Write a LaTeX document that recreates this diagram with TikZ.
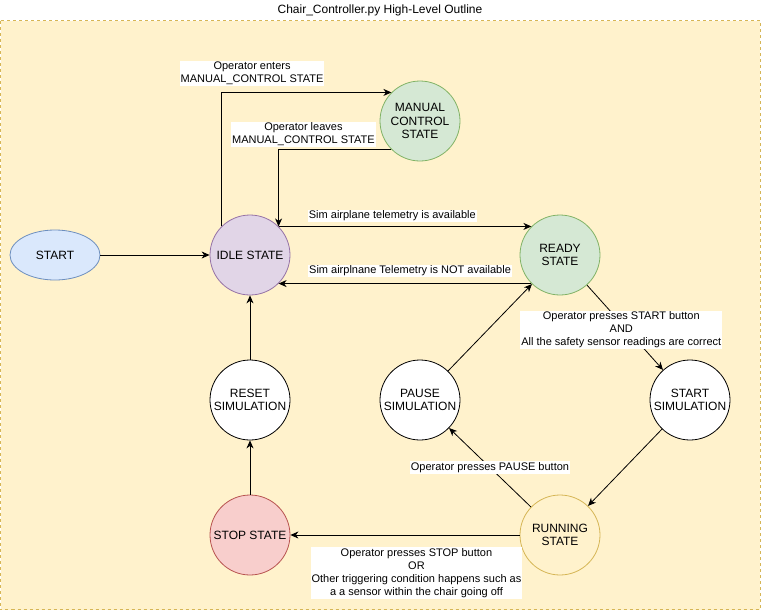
\documentclass[tikz,border=0pt]{standalone}
\usepackage{fontspec}
\setmainfont{Liberation Sans}
\usetikzlibrary{shapes.geometric,arrows.meta}
\definecolor{bluefill}{HTML}{DAE8FC}
\definecolor{blueline}{HTML}{6C8EBF}
\definecolor{purplefill}{HTML}{E1D5E7}
\definecolor{purpleline}{HTML}{9673A6}
\definecolor{greenfill}{HTML}{D5E8D4}
\definecolor{greenline}{HTML}{82B366}
\definecolor{redfill}{HTML}{F8CECC}
\definecolor{redline}{HTML}{B85450}
\definecolor{yellowfill}{HTML}{FFF2CC}
\definecolor{yellowline}{HTML}{D6B656}

\begin{document}
\begin{tikzpicture}[x=1pt,y=-1pt,
		state/.style={circle,draw,line width=0.8pt,minimum size=80pt,inner sep=0pt,align=center,font=\fontsize{12}{13.5}\selectfont},
		lbl/.style={fill=white,inner sep=1pt,align=center,font=\fontsize{11}{13}\selectfont},
		arr/.style={-{Stealth[length=8pt,width=7pt,inset=2.5pt]},line width=0.8pt}]
		\useasboundingbox (0,0) rectangle (761,611);
		\node (title) at(380,10) {\fontsize{12}{14}\selectfont Chair\_Controller.py High-Level Outline};
		\draw[fill=yellowfill,draw=yellowline,dash pattern=on 3pt off 3pt,line width=0.8pt] (0.5,20.5) rectangle (760,609.5);
		\node[ellipse,draw=blueline,fill=bluefill,line width=0.8pt,minimum width=90pt,minimum height=50pt,font=\fontsize{12}{13.5}\selectfont] (start) at(55,255) {START};
		\node[state,draw=purpleline,fill=purplefill] (idle) at(250,255) {IDLE STATE};
		\node[state,draw=greenline,fill=greenfill] (manual) at(420,121) {MANUAL\\CONTROL\\STATE};
		\node[state,draw=greenline,fill=greenfill] (ready) at(560,255) {READY\\STATE};
		\node[state,fill=white] (startsim) at(690,400) {START\\SIMULATION};
		\node[state,fill=white] (pause) at(420,400) {PAUSE\\SIMULATION};
		\node[state,fill=white] (reset) at(250,400) {RESET\\SIMULATION};
		\node[state,draw=redline,fill=redfill] (stop) at(250,535) {STOP STATE};
		\node[state,draw=yellowline,fill=yellowfill] (running) at(560,535) {RUNNING\\STATE};
		\draw[arr] (start) -- (idle);
		\draw[arr] (idle.north west) |- (manual.north west) node[lbl,pos=0.59,above=6pt] {Operator enters\\MANUAL\_CONTROL STATE};
		\draw[arr] (manual.south west) -| (idle.north east) node[lbl,pos=0.39,above=2pt] {Operator leaves\\MANUAL\_CONTROL STATE};
		\draw[arr] (idle.north east) -- (ready.north west) node[lbl,pos=0.45,above=4pt] {Sim airplane telemetry is available};
		\draw[arr] (ready.south west) -- (idle.south east) node[lbl,pos=0.48,above=6pt] {Sim airplnane Telemetry is NOT available};
		\draw[arr] (ready) -- (startsim) node[lbl,pos=0.53,xshift=-6pt] {Operator presses START button\\AND\\All the safety sensor readings are correct};
		\draw[arr] (startsim) -- (running);
		\draw[arr] (running) -- (pause) node[lbl,pos=0.5] {Operator presses PAUSE button};
		\draw[arr] (pause) -- (ready);
		\draw[arr] (running) -- (stop) node[lbl,pos=0.45,below=12pt] {Operator presses STOP button\\OR\\Other triggering condition happens such as\\a a sensor within the chair going off};
		\draw[arr] (stop) -- (reset);
		\draw[arr] (reset) -- (idle);
	\end{tikzpicture}
\end{document}
